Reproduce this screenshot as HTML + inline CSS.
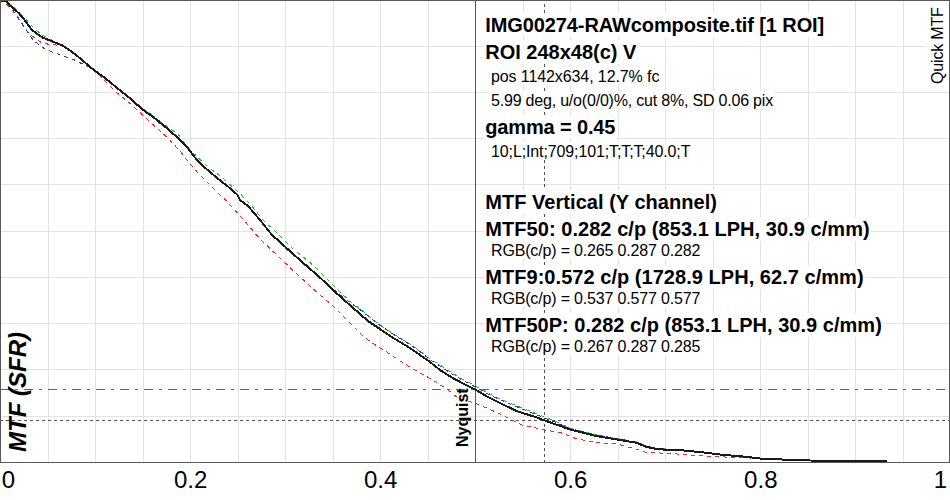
<!DOCTYPE html><html><head><meta charset="utf-8"><title>Quick MTF</title><style>
html,body{margin:0;padding:0;background:#fff;}
body{width:950px;height:500px;position:relative;overflow:hidden;font-family:"Liberation Sans",sans-serif;color:#000;}
.t{position:absolute;white-space:nowrap;background:#fff;line-height:1;}
.b{font-weight:bold;}
.ax{position:absolute;white-space:nowrap;font-size:24px;line-height:24px;height:24px;}
.rot{position:absolute;white-space:nowrap;line-height:1;transform-origin:0 0;transform:rotate(-90deg);}
</style></head><body>
<svg width="950" height="500" viewBox="0 0 950 500" style="position:absolute;left:0;top:0">
<rect x="0" y="0" width="950" height="500" fill="#fff"/>
<g shape-rendering="crispEdges" fill="#e3e3e3">
<rect x="48" y="1" width="1" height="461"/>
<rect x="95" y="1" width="1" height="461"/>
<rect x="143" y="1" width="1" height="461"/>
<rect x="190" y="1" width="1" height="461"/>
<rect x="238" y="1" width="1" height="461"/>
<rect x="285" y="1" width="1" height="461"/>
<rect x="333" y="1" width="1" height="461"/>
<rect x="380" y="1" width="1" height="461"/>
<rect x="428" y="1" width="1" height="461"/>
<rect x="523" y="1" width="1" height="461"/>
<rect x="570" y="1" width="1" height="461"/>
<rect x="618" y="1" width="1" height="461"/>
<rect x="665" y="1" width="1" height="461"/>
<rect x="713" y="1" width="1" height="461"/>
<rect x="760" y="1" width="1" height="461"/>
<rect x="808" y="1" width="1" height="461"/>
<rect x="855" y="1" width="1" height="461"/>
<rect x="903" y="1" width="1" height="461"/>
<rect x="1" y="46" width="948" height="1"/>
<rect x="1" y="92" width="948" height="1"/>
<rect x="1" y="138" width="948" height="1"/>
<rect x="1" y="184" width="948" height="1"/>
<rect x="1" y="231" width="948" height="1"/>
<rect x="1" y="277" width="948" height="1"/>
<rect x="1" y="323" width="948" height="1"/>
<rect x="1" y="369" width="948" height="1"/>
<rect x="1" y="416" width="948" height="1"/>
</g>
<g shape-rendering="crispEdges" fill="none" stroke-width="1">
<line x1="0" y1="389.5" x2="949" y2="389.5" stroke="#606060" stroke-dasharray="9 6 3 6"/>
<line x1="0" y1="420.5" x2="949" y2="420.5" stroke="#505050" stroke-dasharray="3 3"/>
<line x1="544.5" y1="4" x2="544.5" y2="462" stroke="#505050" stroke-dasharray="3 3"/>
<line x1="475.5" y1="0" x2="475.5" y2="462" stroke="#555"/>
</g>
<g fill="none" stroke-linejoin="round" shape-rendering="crispEdges">
<path d="M0.0,0.0 L4.0,2.0 L10.0,7.5 L15.8,14.7 L20.5,21.6 L24.2,27.4 L29.5,33.7 L35.3,38.7 L41.6,42.6 L47.4,44.0 L55.6,45.0 L62.1,46.0 L71.6,52.0 L78.3,57.0 L92.0,68.7 L103.6,79.6 L116.2,92.2 L131.4,104.5 L140.0,112.6 L150.0,122.0 L167.8,137.9 L180.0,151.0 L190.0,164.0 L200.6,175.8 L210.0,185.0 L227.2,201.8 L233.0,208.0 L242.0,218.0 L260.0,239.0 L280.0,258.0 L300.0,277.0 L320.0,295.0 L332.0,305.0 L342.0,315.0 L350.0,323.0 L360.0,333.0 L368.0,340.0 L380.0,348.0 L390.0,354.0 L400.0,361.0 L410.0,367.0 L420.0,373.0 L430.0,378.4 L446.0,388.4 L458.7,398.5 L476.4,403.6 L496.6,412.4 L522.0,425.0 L545.3,430.0 L560.4,432.6 L575.6,438.4 L595.8,442.7 L616.0,443.5 L631.2,447.8 L646.3,452.3 L671.6,453.6 L696.9,455.4 L722.0,456.9 L747.4,457.9 L790.0,460.0 L830.0,461.0 L887.0,461.3" stroke="#ff2020" stroke-width="1" stroke-dasharray="4 4"/>
<path d="M0.0,0.0 L6.0,2.0 L12.0,6.0 L18.0,11.0 L25.0,18.0 L30.0,24.0 L36.0,30.0 L42.0,35.0 L50.0,39.0 L58.0,43.0 L70.0,50.0 L78.3,56.3 L92.2,68.2 L103.6,76.5 L116.2,86.7 L128.8,96.8 L141.5,108.0 L153.9,116.5 L167.8,127.0 L177.9,134.1 L190.5,150.5 L208.2,167.0 L223.4,178.3 L241.0,194.7 L250.0,203.8 L265.0,222.5 L270.3,226.5 L290.5,246.7 L310.7,263.2 L322.0,274.0 L330.0,282.0 L342.0,294.0 L352.0,303.0 L360.0,309.0 L370.0,317.0 L380.0,325.0 L390.0,331.6 L400.0,338.0 L410.0,344.0 L420.0,351.0 L430.0,359.0 L440.0,365.0 L452.0,373.0 L464.0,380.0 L476.4,386.5 L488.0,393.0 L501.7,399.8 L529.5,411.0 L554.8,421.0 L570.5,428.4 L595.8,434.7 L621.0,439.2 L636.2,441.7 L646.3,445.8 L657.7,448.5 L681.7,450.0 L701.9,452.3 L722.1,454.8 L747.4,456.9 L760.5,458.6 L793.4,460.1 L823.7,460.9 L887.0,461.3" stroke="#20c020" stroke-width="1" stroke-dasharray="4 4"/>
<path d="M0.0,0.0 L7.4,4.2 L12.6,9.7 L16.6,15.6 L20.5,21.0 L24.4,27.2 L28.4,33.5 L32.8,39.5 L38.4,44.4 L44.2,48.6 L50.5,51.4 L63.2,56.0 L74.5,60.0 L83.4,64.4 L92.2,68.7 L103.6,77.0 L116.2,87.2 L128.8,97.3 L141.5,107.5 L153.9,116.5 L167.8,128.0 L179.2,138.5 L186.7,146.7 L194.3,156.8 L203.2,166.2 L215.8,177.0 L227.2,185.9 L237.3,194.7 L240.0,200.0 L248.0,206.0 L260.0,220.0 L272.0,235.0 L280.0,243.0 L292.0,254.0 L304.0,264.5 L316.0,274.5 L328.0,285.0 L334.0,290.0 L342.0,296.0 L352.0,304.0 L360.0,309.5 L370.0,317.5 L380.0,325.5 L390.0,332.0 L400.0,338.5 L410.0,344.5 L420.0,351.5 L430.0,359.5 L440.0,366.0 L452.0,374.0 L464.0,381.0 L476.4,387.5 L488.0,394.0 L501.7,400.5 L529.5,412.0 L554.8,422.0 L570.5,428.6 L595.8,434.9 L621.0,439.4 L636.2,442.0 L646.3,446.0 L657.7,448.6 L681.7,450.0 L701.9,452.3 L722.1,454.8 L747.4,456.9 L760.5,458.6 L793.4,460.1 L823.7,460.9 L887.0,461.3" stroke="#2030ff" stroke-width="1" stroke-dasharray="4 4"/>
<path d="M0.0,0.8 L6.0,1.0 L10.0,5.5 L18.9,13.2 L25.3,21.0 L32.5,30.5 L42.1,37.4 L52.6,41.6 L62.1,45.3 L71.6,51.6 L78.3,56.8 L92.2,68.7 L103.6,77.0 L116.2,87.2 L128.8,97.3 L141.5,108.6 L153.9,117.7 L167.8,129.0 L179.2,139.2 L186.7,146.7 L194.3,156.8 L203.2,166.2 L215.8,177.0 L227.2,185.9 L237.3,194.7 L240.0,200.0 L248.0,206.0 L260.0,220.0 L272.0,235.0 L280.0,242.0 L292.0,253.0 L304.0,263.6 L316.0,274.0 L328.0,285.0 L334.0,291.0 L342.0,298.0 L352.0,307.0 L360.0,314.0 L368.0,321.0 L380.0,329.0 L390.0,336.0 L400.0,342.0 L410.0,348.0 L420.0,355.0 L430.0,362.0 L440.0,370.0 L452.0,377.6 L464.0,384.0 L476.0,390.0 L488.0,397.0 L500.0,403.0 L516.9,411.2 L537.0,417.5 L545.3,420.7 L570.5,429.6 L595.8,435.9 L621.0,440.2 L636.2,442.7 L646.3,446.8 L657.7,449.3 L681.7,450.3 L701.9,452.3 L722.1,454.8 L747.4,456.9 L760.5,458.6 L793.4,460.0 L823.7,460.9 L887.0,461.0" stroke="#1a1a1a" stroke-width="2"/>
</g>
<g shape-rendering="crispEdges" fill="#585858">
<rect x="0" y="0" width="950" height="1"/>
<rect x="0" y="462" width="950" height="1"/>
<rect x="0" y="0" width="1" height="462"/>
<rect x="949" y="0" width="1" height="462"/>
</g>
</svg>
<div class="t b" id="t0" style="left:484.3px;top:13.00px;font-size:20px;height:23.60px;line-height:23.60px;letter-spacing:-0.105px;padding:0 1px 0 1px"><span style="position:relative;top:0.92px">IMG00274-RAWcomposite.tif [1 ROI]</span></div>
<div class="t b" id="t1" style="left:484.3px;top:40.00px;font-size:20px;height:23.60px;line-height:23.60px;letter-spacing:-0.015px;padding:0 1px 0 1px"><span style="position:relative;top:0.92px">ROI 248x48(c) V</span></div>
<div class="t" id="t2" style="left:490px;top:67.10px;font-size:16px;height:18.00px;line-height:18.00px;letter-spacing:-0.1px;padding:0 1px 0 1px"><span style="position:relative;top:0.96px">pos 1142x634, 12.7% fc</span></div>
<div class="t" id="t3" style="left:490px;top:91.00px;font-size:16px;height:18.00px;line-height:18.00px;letter-spacing:-0.2px;padding:0 1px 0 1px"><span style="position:relative;top:0.96px">5.99 deg, u/o(0/0)%, cut 8%, SD 0.06 pix</span></div>
<div class="t b" id="t4" style="left:484.3px;top:115.10px;font-size:20px;height:23.60px;line-height:23.60px;letter-spacing:-0.15px;padding:0 1px 0 1px"><span style="position:relative;top:0.92px">gamma = 0.45</span></div>
<div class="t" id="t5" style="left:490px;top:142.30px;font-size:16px;height:18.00px;line-height:18.00px;letter-spacing:-0.12px;padding:0 1px 0 1px"><span style="position:relative;top:0.96px">10;L;Int;709;101;T;T;T;40.0;T</span></div>
<div class="t b" id="t6" style="left:484.3px;top:190.10px;font-size:20px;height:23.60px;line-height:23.60px;letter-spacing:0.037px;padding:0 1px 0 1px"><span style="position:relative;top:0.92px">MTF Vertical (Y channel)</span></div>
<div class="t b" id="t7" style="left:484.3px;top:217.10px;font-size:20px;height:23.60px;line-height:23.60px;letter-spacing:0.053px;padding:0 1px 0 1px"><span style="position:relative;top:0.92px">MTF50: 0.282 c/p (853.1 LPH, 30.9 c/mm)</span></div>
<div class="t" id="t8" style="left:490px;top:240.80px;font-size:16px;height:18.00px;line-height:18.00px;letter-spacing:-0.164px;padding:0 1px 0 1px"><span style="position:relative;top:0.96px">RGB(c/p) = 0.265 0.287 0.282</span></div>
<div class="t b" id="t9" style="left:484.3px;top:265.10px;font-size:20px;height:23.60px;line-height:23.60px;letter-spacing:0.04px;padding:0 1px 0 1px"><span style="position:relative;top:0.92px">MTF9:0.572 c/p (1728.9 LPH, 62.7 c/mm)</span></div>
<div class="t" id="t10" style="left:490px;top:288.80px;font-size:16px;height:18.00px;line-height:18.00px;letter-spacing:-0.164px;padding:0 1px 0 1px"><span style="position:relative;top:0.96px">RGB(c/p) = 0.537 0.577 0.577</span></div>
<div class="t b" id="t11" style="left:484.3px;top:313.10px;font-size:20px;height:23.60px;line-height:23.60px;letter-spacing:0.02px;padding:0 1px 0 1px"><span style="position:relative;top:0.92px">MTF50P: 0.282 c/p (853.1 LPH, 30.9 c/mm)</span></div>
<div class="t" id="t12" style="left:490px;top:336.80px;font-size:16px;height:18.00px;line-height:18.00px;letter-spacing:-0.164px;padding:0 1px 0 1px"><span style="position:relative;top:0.96px">RGB(c/p) = 0.267 0.287 0.285</span></div>
<div class="ax" style="left:1.7px;top:467.7px">0</div>
<div class="ax" style="left:190.7px;top:467.7px;transform:translateX(-50%)">0.2</div>
<div class="ax" style="left:380.7px;top:467.7px;transform:translateX(-50%)">0.4</div>
<div class="ax" style="left:570.7px;top:467.7px;transform:translateX(-50%)">0.6</div>
<div class="ax" style="left:760.8px;top:467.7px;transform:translateX(-50%)">0.8</div>
<div class="ax" style="right:3px;top:467.7px">1</div>
<div class="rot" id="ylab" style="left:6px;top:452px;font-size:24px;font-weight:bold;font-style:italic;">MTF (SFR)</div>
<div class="rot" id="nyq" style="left:455.3px;top:447px;font-size:16px;font-weight:bold;">Nyquist</div>
<div class="rot" id="qm" style="left:927px;top:85.6px;font-size:16px;background:#fff;height:21px;line-height:21px;padding:0 2px;letter-spacing:-0.17px">Quick MTF</div>
</body></html>
